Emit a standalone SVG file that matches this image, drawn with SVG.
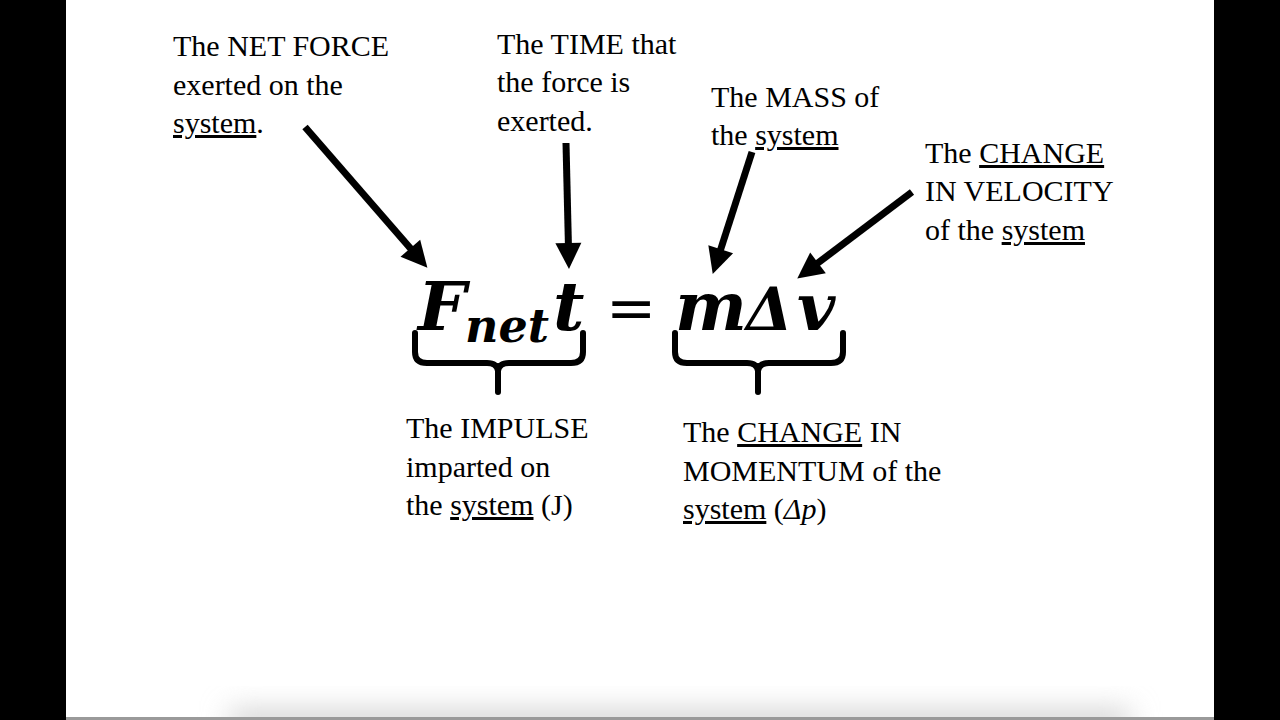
<svg xmlns="http://www.w3.org/2000/svg" width="1280" height="720" viewBox="0 0 1280 720">
<style>
.lbl{font-family:"Liberation Serif","Times New Roman",serif;font-size:30px;fill:#000}
.u{text-decoration:underline}
.eq{font-family:"DejaVu Serif",serif;font-weight:bold;font-style:italic;fill:#000}
.arrow{stroke:#000;stroke-width:7;fill:none;marker-end:url(#head)}
.brace{stroke:#000;stroke-width:6;fill:none;stroke-linecap:round;stroke-linejoin:round}
</style>
<defs>
<marker id="head" markerUnits="userSpaceOnUse" orient="auto" refX="0" refY="0" markerWidth="30" markerHeight="30" overflow="visible">
<path d="M-1,-13 L25,0 L-1,13 z" fill="#000"/>
</marker>
<filter id="blur" x="-10%" y="-100%" width="120%" height="300%"><feGaussianBlur stdDeviation="14"/></filter>
</defs>
<rect x="0" y="0" width="1280" height="720" fill="#fff"/>
<g id="shadow">
<rect x="230" y="710" width="900" height="24" fill="#d0d0d0" filter="url(#blur)"/>
<rect x="66" y="717" width="1148" height="3" fill="#9a9a9a"/>
</g>
<rect x="0" y="0" width="66" height="720" fill="#000"/>
<rect x="1214" y="0" width="66" height="720" fill="#000"/>

<g id="connectors">
<line class="arrow" x1="305" y1="127" x2="411" y2="249"/>
<line class="arrow" x1="566" y1="143" x2="568.4" y2="244"/>
<line class="arrow" x1="752" y1="152" x2="720.4" y2="250.2"/>
<line class="arrow" x1="912" y1="192" x2="817.2" y2="263.5"/>
</g>

<g id="equation">
<text class="eq" x="418" y="330" font-size="68">F<tspan x="465" y="342" font-size="46">net</tspan><tspan x="553" y="330">t</tspan></text>
<text x="606" y="328" font-family="DejaVu Serif, serif" font-size="60" fill="#000">=</text>
<text class="eq" x="675" y="330" font-size="68">m<tspan x="746" font-size="60">Δ</tspan><tspan x="797" font-size="66">v</tspan></text>
</g>

<g id="brace-impulse">
<path class="brace" d="M415,333 V352 Q415,363 427,363 H487 Q497,363 498,371 Q499,363 509,363 H571 Q583,363 583,352 V333"/>
<path class="brace" d="M498,366 V392"/>
</g>
<g id="brace-momentum">
<path class="brace" d="M675,333 V352 Q675,363 687,363 H747 Q757,363 758,371 Q759,363 769,363 H831 Q843,363 843,352 V333"/>
<path class="brace" d="M758,366 V392"/>
</g>

<g id="net-force">
<text class="lbl" x="173" y="56">The NET FORCE</text>
<text class="lbl" x="173" y="95">exerted on the</text>
<text class="lbl" x="173" y="133"><tspan class="u">system</tspan>.</text>
</g>
<g id="time">
<text class="lbl" x="497" y="54">The TIME that</text>
<text class="lbl" x="497" y="92">the force is</text>
<text class="lbl" x="497" y="131">exerted.</text>
</g>
<g id="mass">
<text class="lbl" x="711" y="107">The MASS of</text>
<text class="lbl" x="711" y="145">the <tspan class="u">system</tspan></text>
</g>
<g id="velocity">
<text class="lbl" x="925" y="163">The <tspan class="u">CHANGE</tspan></text>
<text class="lbl" x="925" y="201">IN VELOCITY</text>
<text class="lbl" x="925" y="240">of the <tspan class="u">system</tspan></text>
</g>
<g id="impulse">
<text class="lbl" x="406" y="438">The IMPULSE</text>
<text class="lbl" x="406" y="477">imparted on</text>
<text class="lbl" x="406" y="515">the <tspan class="u">system</tspan> (J)</text>
</g>
<g id="momentum">
<text class="lbl" x="683" y="442">The <tspan class="u">CHANGE</tspan> IN</text>
<text class="lbl" x="683" y="481">MOMENTUM of the</text>
<text class="lbl" x="683" y="519"><tspan class="u">system</tspan> (<tspan font-style="italic">Δp</tspan>)</text>
</g>
</svg>
